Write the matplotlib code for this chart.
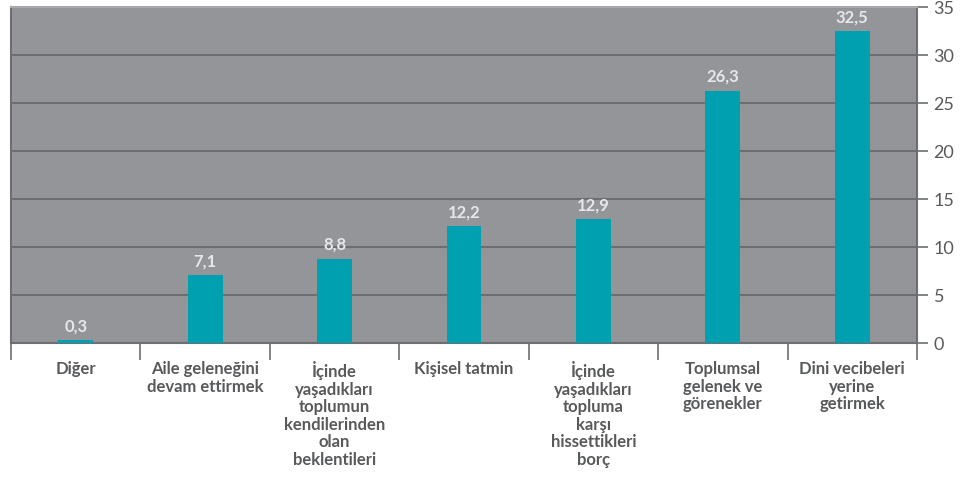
import matplotlib
matplotlib.use("Agg")
import matplotlib.pyplot as plt
import numpy as np

categories = ["Diğer", "Aile geleneğini\ndevam ettirmek",
              "İçinde\nyaşadıkları\ntoplumun\nkendilerinden\nolan\nbeklentileri",
              "Kişisel tatmin",
              "İçinde\nyaşadıkları\ntopluma\nkarşı\nhissettikleri\nborç",
              "Toplumsal\ngelenek ve\ngörenekler",
              "Dini vecibeleri\nyerine\ngetirmek"]
values = [0.3, 7.1, 8.8, 12.2, 12.9, 26.3, 32.5]
value_labels = ["0,3", "7,1", "8,8", "12,2", "12,9", "26,3", "32,5"]
yticks = [0, 5, 10, 15, 20, 25, 30, 35]

plt.rcParams['font.family'] = ['Lato', 'DejaVu Sans']

fig = plt.figure(figsize=(9.68, 4.78), dpi=100)
ax = fig.add_axes([11/968, 1-343/478, (917-11)/968, (343-7)/478])
ax.set_facecolor("#939598")

x = np.arange(len(categories))
ax.bar(x, values, width=0.27, color="#00a0b0", zorder=3)
for xi, v, lab in zip(x, values, value_labels):
    ax.text(xi, v + 0.6, lab, ha="center", va="bottom", color="#e6e7e8",
            fontsize=12, fontweight="bold", zorder=4)

ax.set_xlim(-0.5, len(categories) - 0.5)
ax.set_ylim(0, 35)
ax.yaxis.tick_right()
ax.set_yticks(yticks)
ax.set_yticklabels([str(t) for t in yticks], fontsize=13, color="#58595b")
ax.tick_params(axis="y", length=8, width=1.2, color="#6d6e71", pad=4)
ax.grid(axis="y", color="#6d6e71", linewidth=1.5, zorder=1)

ax.set_xticks(np.arange(len(categories) + 1) - 0.5)
ax.set_xticklabels([])
ax.tick_params(axis="x", length=12, width=1.2, color="#6d6e71")
ax.set_xticks(x, minor=True)
ax.set_xticklabels(categories, minor=True, fontsize=12, fontweight="bold",
                   color="#58595b", linespacing=1.12)
ax.tick_params(axis="x", which="minor", length=0, pad=13)

for s in ["left", "right", "bottom", "top"]:
    ax.spines[s].set_color("#6d6e71")
    ax.spines[s].set_linewidth(1.5)
ax.spines["top"].set_color("#a7a9ac")

fig.savefig("out.png", dpi=100)
